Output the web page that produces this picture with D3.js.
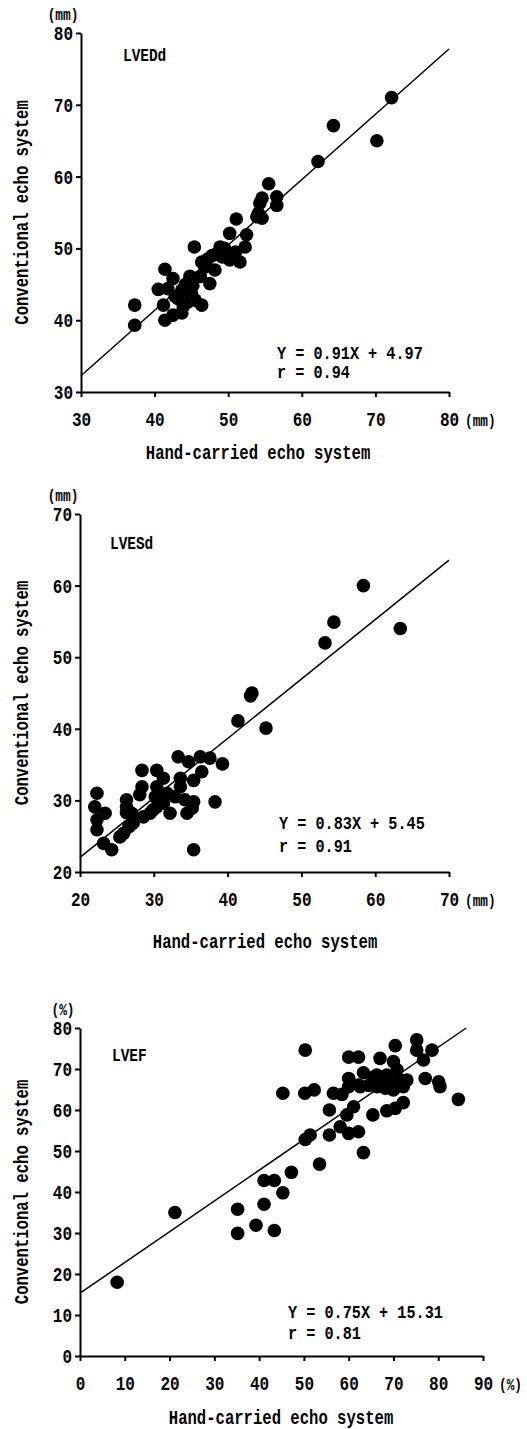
<!doctype html>
<html lang="en">
<head>
  <meta charset="UTF-8">
  <title>Hand-carried vs conventional echo</title>
  <style>
    body { margin: 0; background: #fff; }
    svg text {
      font-family: "Liberation Mono", "DejaVu Sans Mono", monospace;
      font-weight: bold;
      fill: #000;
    }
  </style>
</head>
<body>
<div id="app"></div>
<script src="https://cdn.jsdelivr.net/npm/d3@7/dist/d3.min.js"></script>
<script>
  // [hand-carried, conventional]
  var lveddPoints = [
    [37.3,42.1],[37.3,39.3],[40.5,44.3],[41.2,42.1],[41.4,47.1],[41.4,40.0],[41.8,44.4],[42.5,45.8],
    [42.5,40.7],[42.8,43.3],[43.2,43.0],[43.7,44.2],[43.7,41.0],[43.9,41.9],[44.2,45.0],[44.8,46.1],
    [44.5,42.5],[45.0,43.7],[45.4,50.2],[45.5,42.8],[45.2,44.8],[46.2,46.1],[46.4,42.1],[46.4,48.1],
    [46.8,47.4],[47.5,45.1],[47.2,48.5],[47.8,49.0],[48.2,47.0],[48.5,49.3],[48.9,50.2],[49.2,48.8],
    [49.5,50.0],[50.2,48.4],[50.2,52.1],[51.0,49.5],[51.6,48.1],[51.1,54.1],[52.3,50.2],[52.5,51.9],
    [53.9,54.4],[54.1,54.9],[54.3,56.3],[54.6,54.2],[54.6,57.0],[55.5,59.0],[56.6,57.2],[56.6,56.0],
    [62.2,62.1],[64.3,67.1],[70.2,65.0],[72.2,71.0]
  ];
  var lvesdPoints = [
    [22.3,31.0],[22.0,29.1],[22.3,27.3],[22.3,25.9],[23.4,28.2],[23.2,24.0],[24.3,23.1],[25.4,24.9],
    [25.9,25.4],[26.3,30.1],[26.3,29.1],[26.3,28.3],[26.6,26.3],[27.2,26.8],[27.0,28.2],[28.4,34.2],
    [28.4,31.9],[28.1,30.8],[28.6,27.7],[29.5,28.2],[29.9,28.7],[30.4,34.2],[30.4,31.9],[30.2,30.5],
    [30.4,29.1],[31.3,33.1],[31.3,29.6],[31.8,31.0],[32.2,28.2],[32.9,30.5],[33.6,33.1],[33.3,36.1],
    [33.6,31.9],[34.2,30.1],[34.5,28.2],[34.7,35.4],[35.4,32.8],[35.4,29.8],[35.2,28.9],[35.4,23.1],
    [36.3,36.1],[36.5,34.0],[37.6,35.9],[38.3,29.8],[39.3,35.1],[41.4,41.1],[43.3,45.0],[43.1,44.6],
    [45.2,40.1],[53.2,52.0],[54.4,54.9],[58.4,60.0],[63.4,54.0]
  ];
  var lvefPoints = [
    [8.3,18.0],[21.2,35.0],[35.2,35.8],[35.2,29.9],[39.3,31.9],[41.1,37.0],[41.1,42.8],[43.4,42.8],
    [43.4,30.6],[45.3,39.8],[47.2,44.8],[53.5,46.8],[63.3,49.6],[45.3,64.1],[50.3,74.6],[50.3,52.8],
    [51.4,53.9],[50.2,64.1],[52.3,64.9],[55.7,60.0],[55.7,53.9],[56.6,64.1],[58.5,63.8],[60.0,72.9],
    [62.2,72.9],[60.0,67.7],[60.0,65.7],[62.2,66.1],[62.6,65.7],[63.3,69.1],[61.1,60.8],[59.6,58.8],
    [58.1,55.9],[60.0,54.3],[62.2,54.7],[65.4,58.8],[68.5,59.8],[70.4,60.4],[72.2,61.8],[67.0,72.6],
    [70.4,75.7],[75.2,77.1],[75.2,74.6],[78.6,74.6],[76.7,72.2],[77.1,67.7],[80.1,66.9],[80.4,65.7],
    [84.5,62.6],[64.5,66.0],[65.5,68.0],[66.3,65.7],[66.3,68.5],[67.5,66.5],[68.2,65.3],[68.5,68.5],
    [69.3,67.0],[70.0,64.9],[70.0,71.8],[70.8,69.8],[71.5,67.3],[72.2,65.7],[73.0,67.3]
  ];

  var panelNames = ['LVEDd', 'LVESd', 'LVEF'];
  var unitLabels = ['(mm)', '(mm)', '(%)'];
  var slopes = [0.91, 0.83, 0.75];
  var intercepts = [4.97, 5.45, 15.31];
  var equationLabels = ['Y = 0.91X + 4.97', 'Y = 0.83X + 5.45', 'Y = 0.75X + 15.31'];
  var rLabels = ['r = 0.94', 'r = 0.91', 'r = 0.81'];
  var xDomains = [[30, 80], [20, 70], [0, 90]];
  var yDomains = [[30, 80], [20, 70], [0, 80]];
  var xTickValues = [[30, 40, 50, 60, 70, 80], [20, 30, 40, 50, 60, 70], [0, 10, 20, 30, 40, 50, 60, 70, 80, 90]];
  var yTickValues = [[30, 40, 50, 60, 70, 80], [20, 30, 40, 50, 60, 70], [0, 10, 20, 30, 40, 50, 60, 70, 80]];
  var xTitle = 'Hand-carried echo system';
  var yTitle = 'Conventional echo system';

  var allPoints = [lveddPoints, lvesdPoints, lvefPoints];

  // pixel boxes of each plot
  var boxes = [
    {left: 81, right: 449, top: 33, bottom: 392, xTitleX: 258, xTitleY: 459, nameY: 61, eqY: 359, rY: 378},
    {left: 80, right: 449, top: 514, bottom: 872, xTitleX: 265, xTitleY: 948, nameY: 549, eqY: 829, rY: 852},
    {left: 80, right: 483, top: 1028, bottom: 1356, xTitleX: 281, xTitleY: 1424, nameY: 1061, eqY: 1318, rY: 1339}
  ];
  var nameX = [123, 110, 112];
  var eqX = [277, 279, 288];

  var width = 527;
  var height = 1429;
  var SQ = 0.8; // squeeze glyphs horizontally

  var svg = d3.select('#app')
              .append('svg')
              .attr('width', width)
              .attr('height', height);

  function label(g, x, y, s, size, anchor, rot) {
    return g.append('text')
      .attr('transform', 'translate(' + x + ',' + y + ')' + (rot ? ' rotate(' + rot + ')' : '') + ' scale(' + SQ + ',1)')
      .attr('font-size', size)
      .attr('text-anchor', anchor || 'start')
      .text(s);
  }

  boxes.forEach(function(b, i) {
    var g = svg.append('g');
    var x = d3.scaleLinear().domain(xDomains[i]).range([b.left, b.right]);
    var y = d3.scaleLinear().domain(yDomains[i]).range([b.bottom, b.top]);

    // regression line, clipped at the top of the y range
    var x0 = xDomains[i][0];
    var x1 = Math.min(xDomains[i][1], (yDomains[i][1] - intercepts[i]) / slopes[i]);
    g.append('line')
      .attr('x1', x(x0)).attr('y1', y(slopes[i] * x0 + intercepts[i]))
      .attr('x2', x(x1)).attr('y2', y(slopes[i] * x1 + intercepts[i]))
      .attr('stroke', '#000')
      .attr('stroke-width', 1.5);

    g.selectAll('circle.dot')
      .data(allPoints[i])
      .enter()
      .append('circle')
      .attr('class', 'dot')
      .attr('cx', d => x(d[0]))
      .attr('cy', d => y(d[1]))
      .attr('r', 6.8)
      .attr('fill', '#000');

    var yAxis = g.append('g')
      .attr('transform', 'translate(' + b.left + ',0)')
      .call(d3.axisLeft(y).tickValues(yTickValues[i]).tickSize(5).tickSizeOuter(0).tickPadding(3));
    yAxis.selectAll('.tick text')
      .attr('x', -8 / SQ)
      .attr('transform', 'scale(' + SQ + ',1)');

    var xAxis = g.append('g')
      .attr('transform', 'translate(0,' + b.bottom + ')')
      .call(d3.axisBottom(x).tickValues(xTickValues[i]).tickSize(5).tickSizeOuter(0).tickPadding(15));
    xAxis.selectAll('.tick text')
      .attr('transform', 'scale(' + SQ + ',1)');

    [yAxis, xAxis].forEach(function(a) {
      a.attr('font-size', 20);
      a.selectAll('path, line').attr('stroke-width', 2);
    });

    label(g, 63, b.top - 13, unitLabels[i], 16, 'middle');
    label(g, b.right + 16, b.bottom + 34, unitLabels[i], 16, 'start');

    label(g, nameX[i], b.nameY, panelNames[i], 18);
    label(g, eqX[i], b.eqY, equationLabels[i], 19);
    label(g, eqX[i], b.rY, rLabels[i], 19);

    label(g, b.xTitleX, b.xTitleY, xTitle, 19.5, 'middle');
    label(g, 28, (b.top + b.bottom) / 2, yTitle, 19.5, 'middle', -90);
  });
</script>
</body>
</html>
